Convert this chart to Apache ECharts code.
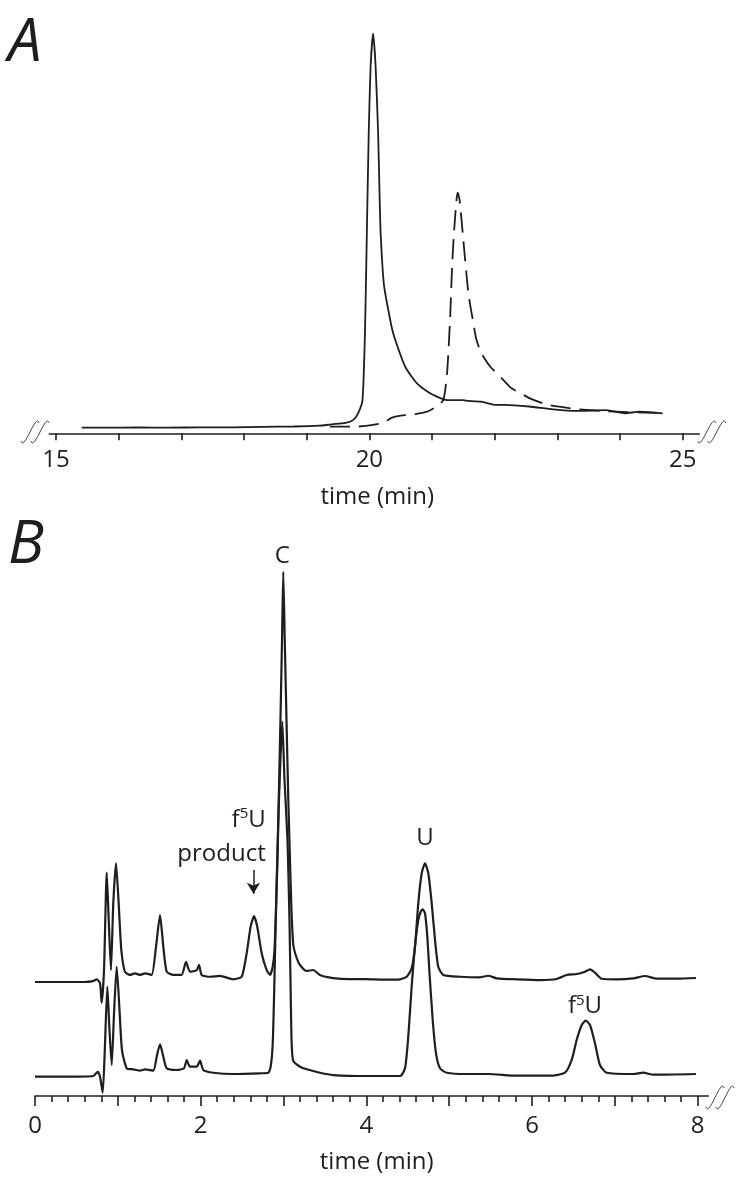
<!DOCTYPE html>
<html>
<head>
<meta charset="utf-8">
<script src="https://cdn.jsdelivr.net/npm/echarts@6/dist/echarts.min.js"></script>
<style>
html,body{margin:0;padding:0;background:#fff;}
#chart{width:750px;height:1182px;}
</style>
</head>
<body>
<div id="chart"></div>
<script>
// ---------- DATA (time in min, signal in arbitrary units) ----------
// Panel A: solid trace
const solidA = [
[15.41,1.4],[15.8,1.4],[16.3,1.45],[16.8,1.4],[17.3,1.5],[17.8,1.5],[18.3,1.6],[18.8,1.7],[19.2,1.9],[19.40,2.25],
[19.62,2.6],[19.74,3.3],[19.82,5.0],[19.89,8.3],[19.93,25],[19.96,50],[19.99,75],[20.02,91.7],[20.06,100],[20.10,91.7],
[20.14,75],[20.165,58.3],[20.18,50],[20.23,37.5],[20.30,31],[20.38,25],[20.57,16.7],[20.76,12.5],[20.95,10.2],[21.08,9.15],
[21.24,8.3],[21.50,8.3],[21.54,8.15],[21.78,7.9],[22.03,7.1],[22.16,7.1],[22.55,6.7],[22.93,6.0],[23.31,5.6],[23.78,5.8],
[24.08,5.0],[24.31,5.4],[24.68,5.0]
];
// Panel A: dashed trace
const dashedA = [
[19.37,1.65],[19.77,1.65],[20.06,2.1],[20.22,2.6],[20.36,3.9],[20.5,4.4],[20.70,4.7],[20.92,5.4],[21.06,6.6],[21.18,8.3],
[21.24,15],[21.29,29.2],[21.32,41.6],[21.35,50],[21.39,58.3],[21.41,60.15],[21.44,58.3],[21.50,48.3],[21.58,35],[21.66,27.5],
[21.71,23.3],[21.79,20],[21.93,16.65],[22.14,13.3],[22.27,11.25],[22.46,9.6],[22.56,8.75],[22.85,7.1],[23.28,6.1],[23.68,5.6],
[24.16,5.3],[24.64,5.1]
];
// Panel B: upper trace (offset)
const upperB = [
[0,21.74],[0.30,21.74],[0.60,21.74],[0.70,21.9],[0.745,22.26],[0.785,21.5],[0.805,17.8],[0.833,24.0],[0.866,42.6],[0.89,33.6],
[0.917,24.0],[0.945,36.75],[0.978,44.4],[1.01,36.75],[1.042,27.85],[1.086,23.7],[1.147,23.1],[1.207,23.4],[1.268,23.1],[1.328,23.4],
[1.408,23.1],[1.461,28.5],[1.509,34.5],[1.549,28.5],[1.59,23.7],[1.67,23.1],[1.77,23.1],[1.823,25.6],[1.871,23.7],[1.952,24.0],
[1.98,25.0],[2.012,23.1],[2.112,22.75],[2.233,22.9],[2.394,22.26],[2.495,22.75],[2.555,27.2],[2.603,32.3],[2.644,34.3],[2.683,32.3],
[2.737,27.2],[2.797,24.0],[2.837,23.1],[2.869,24.66],[2.891,27.85],[2.909,35.48],[2.927,45.01],[2.945,58.36],[2.963,71.71],[2.982,86.97],
[2.997,100],[3.015,86.97],[3.036,71.71],[3.058,56.46],[3.078,45.01],[3.096,35.48],[3.118,28.8],[3.159,26.32],[3.199,24.99],[3.280,23.84],
[3.359,24.03],[3.440,23.08],[3.597,22.5],[3.802,22.3],[4.0,22.3],[4.2,22.2],[4.406,22.26],[4.487,22.75],[4.547,24.36],[4.587,28.48],
[4.627,36.75],[4.668,42.48],[4.708,44.38],[4.748,42.48],[4.789,36.75],[4.829,29.75],[4.868,24.66],[4.929,23.08],[5.130,22.75],[5.372,22.64],
[5.472,22.94],[5.573,22.45],[5.815,22.26],[6.096,22.12],[6.298,22.32],[6.418,23.08],[6.539,23.27],[6.639,23.71],[6.700,24.17],[6.760,23.52],
[6.841,22.37],[7.022,22.26],[7.222,22.45],[7.364,22.89],[7.505,22.37],[7.746,22.37],[7.98,22.51]
];
// Panel B: lower trace
const lowerB = [
[0,3.68],[0.382,3.68],[0.704,3.81],[0.757,4.63],[0.785,3.68],[0.817,0.63],[0.841,8.14],[0.873,20.85],[0.897,13.22],[0.926,5.91],
[0.954,15.77],[0.986,24.66],[1.018,17.03],[1.050,8.77],[1.107,5.28],[1.187,5.09],[1.268,4.83],[1.328,5.09],[1.428,4.83],[1.469,7.5],
[1.509,9.86],[1.549,7.5],[1.590,5.28],[1.710,4.96],[1.799,5.28],[1.831,6.87],[1.871,5.59],[1.952,5.59],[1.992,6.73],[2.032,4.96],
[2.153,4.44],[2.394,4.2],[2.716,4.33],[2.816,4.44],[2.845,5.59],[2.869,9.73],[2.885,18.31],[2.901,29.75],[2.918,41.2],[2.937,52.64],
[2.958,62.18],[2.985,71.39],[3.012,60.27],[3.048,48.83],[3.072,33.57],[3.088,18.31],[3.099,9.73],[3.118,6.68],[3.199,5.59],[3.280,5.09],
[3.440,4.44],[3.601,4.0],[4.004,3.81],[4.406,3.81],[4.467,5.28],[4.506,11.31],[4.547,20.85],[4.587,28.48],[4.627,33.57],[4.656,35.15],
[4.680,35.61],[4.708,34.85],[4.736,30.38],[4.760,24.03],[4.801,14.5],[4.841,8.14],[4.889,5.28],[4.970,4.44],[5.211,4.2],[5.472,4.2],
[5.815,3.87],[6.217,3.87],[6.398,4.44],[6.479,6.87],[6.539,10.68],[6.600,13.54],[6.648,14.36],[6.700,13.54],[6.760,10.05],[6.820,5.91],
[6.901,4.44],[7.222,4.2],[7.343,4.44],[7.464,4.06],[7.979,4.2]
];
// Tick labels
const ticksA = [15, 20, 25];
const ticksB = [0, 2, 4, 6, 8];
const axisTitle = 'time (min)';
const panelLetters = ['A', 'B'];
// Peak annotations: [time, signal, text-key]
const peakLabels = [
  [2.984, 103.0, 'C'],
  [4.708, 49.2, 'U'],
  [6.639, 17.1, 'f5U']
];
const productLabel = [[2.785, 52.7, 'f5U'], [2.785, 46.16, 'product']];
const productArrow = [[2.637, 43.1], [2.637, 38.6]];

// ---------- CHART ----------
const FONT = '"Open Sans", "Noto Sans", sans-serif';
const INK = '#1e1e1e';
const chart = echarts.init(document.getElementById('chart'), null, {renderer: 'canvas'});

const richF5U = {
  n: {fontSize: 24, fontFamily: FONT, color: INK, lineHeight: 26},
  s: {fontSize: 15, fontFamily: FONT, color: INK, lineHeight: 14, verticalAlign: 'top'}
};
function labelText(key) {
  return key === 'f5U' ? '{n|f}{s|5}{n|U}' : '{n|' + key + '}';
}

function breakMark(xt, yt, xb, yb) {
  return {
    type: 'bezierCurve', silent: true,
    shape: {x1: xt + 4, y1: yt + 4, cpx1: xt + 1, cpy1: yt - 7, cpx2: xb - 1, cpy2: yb + 7, x2: xb - 4, y2: yb - 4},
    style: {stroke: '#444', lineWidth: 1, fill: null}
  };
}

const hiddenY = (gi, max) => ({gridIndex: gi, type: 'value', min: 0, max: max, show: false});
const lineAxis = (gi, nameGap, pad) => ({
  gridIndex: gi, type: 'value', min: 0, max: 1,
  axisLine: {show: true, lineStyle: {color: INK, width: 1.6}},
  axisTick: {show: false}, axisLabel: {show: false}, splitLine: {show: false},
  name: axisTitle, nameLocation: 'middle', nameGap: nameGap,
  nameTextStyle: {fontFamily: FONT, fontSize: 24, color: INK, padding: pad}
});

const option = {
  animation: false,
  backgroundColor: '#fff',
  grid: [
    {left: 56, right: 67.3, top: 33.3, bottom: 748.7},
    {left: 49.3, right: 50.7, top: 33.3, bottom: 748.7},
    {left: 35, right: 52.3, top: 545.5, bottom: 86},
    {left: 35, right: 41.7, top: 545.5, bottom: 86}
  ],
  xAxis: [
    {gridIndex: 0, type: 'value', min: 15, max: 25, interval: 1,
     axisLine: {show: false},
     axisTick: {show: true, inside: false, length: 7, lineStyle: {color: INK, width: 1.6}},
     axisLabel: {margin: 15, fontFamily: FONT, fontSize: 24, color: INK,
       formatter: v => ticksA.includes(v) ? String(v) : ''},
     splitLine: {show: false}},
    lineAxis(1, 52, [0, 0, 0, 6]),
    {gridIndex: 2, type: 'value', min: 0, max: 8, interval: 1,
     axisLine: {show: false},
     axisTick: {show: true, inside: false, length: 10, lineStyle: {color: INK, width: 1.6}},
     minorTick: {show: true, splitNumber: 5, length: 6, lineStyle: {color: INK, width: 1.6}},
     axisLabel: {margin: 18, fontFamily: FONT, fontSize: 24, color: INK,
       formatter: v => ticksB.includes(v) ? String(v) : ''},
     splitLine: {show: false}, minorSplitLine: {show: false}},
    lineAxis(3, 54, [0, 0, 0, 10])
  ],
  yAxis: [hiddenY(0, 100), hiddenY(1, 100), hiddenY(2, 105), hiddenY(3, 105)],
  series: [
    {type: 'line', xAxisIndex: 0, yAxisIndex: 0, data: solidA, showSymbol: false, smooth: 0.2,
     lineStyle: {color: INK, width: 1.8}},
    {type: 'line', xAxisIndex: 0, yAxisIndex: 0, data: dashedA, showSymbol: false, smooth: 0.2,
     lineStyle: {color: INK, width: 1.8, type: [20, 9]}},
    {type: 'line', xAxisIndex: 2, yAxisIndex: 2, data: upperB, showSymbol: false, smooth: 0.2,
     lineStyle: {color: INK, width: 2.2}, clip: false,
     markPoint: {
       symbol: 'rect', symbolSize: 1, itemStyle: {color: 'rgba(0,0,0,0)'}, silent: true,
       label: {show: true, position: 'inside', rich: richF5U},
       data: productLabel.map(p => ({coord: [p[0], p[1]],
         label: {align: 'right', formatter: labelText(p[2]), rich: richF5U}}))
     },
     markLine: {
       silent: true, symbol: ['none', 'arrow'], symbolSize: [10, 11],
       lineStyle: {color: INK, width: 1.5, type: 'solid'}, label: {show: false},
       data: [[{coord: productArrow[0]}, {coord: productArrow[1]}]]
     }},
    {type: 'line', xAxisIndex: 2, yAxisIndex: 2, data: lowerB, showSymbol: false, smooth: 0.2,
     lineStyle: {color: INK, width: 2.2}, clip: false,
     markPoint: {
       symbol: 'rect', symbolSize: 1, itemStyle: {color: 'rgba(0,0,0,0)'}, silent: true,
       label: {show: true, position: 'inside', rich: richF5U},
       data: peakLabels.map(p => ({coord: [p[0], p[1]],
         label: {formatter: labelText(p[2]), rich: richF5U}}))
     }}
  ],
  graphic: [
    {type: 'text', left: 8, top: 14, silent: true,
     style: {text: panelLetters[0], fontFamily: FONT, fontSize: 60, fontStyle: 'italic', fill: INK}},
    {type: 'text', left: 8, top: 516, silent: true,
     style: {text: panelLetters[1], fontFamily: FONT, fontSize: 60, fontStyle: 'italic', fill: INK}},
    breakMark(35, 419, 25, 445), breakMark(45, 419, 35, 445),
    breakMark(711.7, 419, 701.7, 445), breakMark(721.7, 419, 711.7, 445),
    breakMark(720, 1084, 710, 1111), breakMark(730, 1084, 720, 1111)
  ]
};
chart.setOption(option);
</script>
</body>
</html>
